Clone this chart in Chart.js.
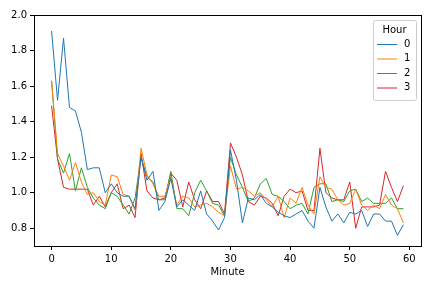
<!DOCTYPE html>
<html>
<head>
<meta charset="utf-8">
<script src="https://cdn.jsdelivr.net/npm/chart.js@4/dist/chart.umd.min.js"></script>
<style>
  html, body { margin: 0; padding: 0; background: #fff; }
  #wrap { width: 432px; height: 288px; }
</style>
</head>
<body>
<div id="wrap"><canvas id="chart" width="432" height="288"></canvas></div>
<script>
const minutes = Array.from({ length: 60 }, (_, i) => i);

const hour0 = [1.91, 1.52, 1.87, 1.48, 1.46, 1.34, 1.13, 1.14, 1.14, 1.00,
  1.05, 1.00, 0.98, 0.98, 0.91, 1.20, 1.07, 1.12, 0.90, 0.95,
  1.08, 0.92, 0.96, 0.93, 0.90, 1.01, 0.88, 0.84, 0.79, 0.86,
  1.24, 1.07, 0.83, 0.97, 0.96, 0.99, 0.94, 0.92, 0.89, 0.87,
  0.86, 0.88, 0.90, 0.84, 0.80, 1.03, 0.92, 0.84, 0.88, 0.83,
  0.89, 0.88, 0.90, 0.81, 0.88, 0.88, 0.84, 0.84, 0.76, 0.82];
const hour1 = [1.63, 1.22, 1.15, 1.07, 1.17, 1.06, 0.99, 1.00, 0.95, 0.93,
  1.10, 1.09, 0.99, 0.98, 0.90, 1.25, 1.10, 1.05, 0.98, 0.98,
  1.09, 0.93, 0.98, 0.97, 0.92, 0.93, 0.94, 0.92, 0.89, 0.87,
  1.15, 1.02, 1.03, 1.01, 0.98, 1.00, 0.96, 0.92, 0.98, 0.86,
  0.97, 0.94, 1.03, 0.93, 0.88, 1.09, 1.03, 1.02, 0.96, 0.93,
  0.94, 1.02, 0.93, 0.90, 0.93, 0.91, 0.99, 0.93, 0.91, 0.83];
const hour2 = [1.63, 1.19, 1.11, 1.22, 1.01, 1.14, 1.03, 0.97, 0.93, 0.91,
  1.00, 0.98, 0.93, 0.88, 0.97, 1.20, 1.09, 1.06, 0.96, 0.96,
  1.12, 0.91, 0.91, 0.87, 1.00, 1.07, 1.01, 0.94, 0.93, 0.87,
  1.20, 1.10, 1.03, 0.95, 0.97, 1.05, 1.08, 0.99, 0.98, 0.95,
  0.91, 0.93, 0.94, 0.88, 1.03, 1.05, 1.05, 0.95, 0.96, 0.95,
  1.01, 1.02, 0.95, 0.97, 0.94, 0.94, 0.94, 0.97, 0.91, 0.91];
const hour3 = [1.49, 1.19, 1.03, 1.02, 1.02, 1.02, 1.02, 0.93, 0.98, 0.92,
  1.00, 1.05, 0.91, 0.93, 0.86, 1.22, 1.01, 0.97, 0.96, 0.97,
  1.11, 1.07, 0.92, 1.06, 0.96, 0.91, 1.01, 0.95, 0.95, 0.88,
  1.28, 1.20, 1.10, 0.95, 0.93, 0.98, 0.97, 0.94, 0.87, 0.98,
  1.02, 1.00, 1.01, 0.90, 0.90, 1.25, 1.00, 0.97, 0.96, 0.96,
  1.06, 0.80, 0.92, 0.92, 0.92, 0.93, 1.12, 1.03, 0.95, 1.04];

const hourLabels = ["0", "1", "2", "3"];
const colors = ["#1f77b4", "#ff7f0e", "#2ca02c", "#d62728"];
const xTicks = [0, 10, 20, 30, 40, 50, 60];
const yTicks = [0.8, 1.0, 1.2, 1.4, 1.6, 1.8, 2.0];

const series = [hour0, hour1, hour2, hour3];
const FONT = "'DejaVu Sans', sans-serif";

// axes frame + legend box in the upper right
const framePlugin = {
  id: "frame",
  afterDraw(chart) {
    const { ctx, chartArea: a } = chart;
    ctx.save();
    ctx.strokeStyle = "#000";
    ctx.lineWidth = 1;
    ctx.strokeRect(Math.round(a.left) + 0.5, Math.round(a.top) + 0.5,
      Math.round(a.right - a.left), Math.round(a.bottom - a.top));

    const bw = 43, bh = 80;
    const bx = a.right - 5 - bw, by = a.top + 5;
    ctx.fillStyle = "rgba(255,255,255,0.8)";
    ctx.strokeStyle = "#cccccc";
    ctx.beginPath();
    ctx.roundRect(bx + 0.5, by + 0.5, bw, bh, 2);
    ctx.fill();
    ctx.stroke();

    ctx.fillStyle = "#000";
    ctx.font = "10px " + FONT;
    ctx.textAlign = "center";
    ctx.textBaseline = "middle";
    ctx.fillText("Hour", bx + bw / 2, by + 10);
    hourLabels.forEach((lab, i) => {
      const yy = by + 24 + i * 14.5;
      ctx.strokeStyle = colors[i];
      ctx.beginPath();
      ctx.moveTo(bx + 4, yy + 0.5);
      ctx.lineTo(bx + 24, yy + 0.5);
      ctx.stroke();
      ctx.fillStyle = "#000";
      ctx.textAlign = "left";
      ctx.fillText(lab, bx + 31, yy);
    });
    ctx.restore();
  }
};

new Chart(document.getElementById("chart"), {
  type: "line",
  data: {
    datasets: series.map((vals, i) => ({
      label: hourLabels[i],
      data: minutes.map((m, j) => ({ x: m, y: vals[j] })),
      borderColor: colors[i],
      backgroundColor: colors[i],
      borderWidth: 1,
      pointRadius: 0,
      tension: 0,
      fill: false
    }))
  },
  options: {
    responsive: false,
    animation: false,
    devicePixelRatio: 1,
    layout: { padding: { top: 15, right: 11, left: 0, bottom: 0 } },
    plugins: { legend: { display: false }, tooltip: { enabled: false } },
    scales: {
      x: {
        type: "linear",
        min: -2.95,
        max: 61.95,
        afterBuildTicks(scale) { scale.ticks = xTicks.map(v => ({ value: v })); },
        afterFit(scale) { scale.height = 42; },
        grid: { display: true, drawOnChartArea: false, tickLength: 4, color: "#000" },
        border: { display: true, color: "#000" },
        ticks: { color: "#000", font: { family: FONT, size: 10 }, padding: 3, maxRotation: 0 },
        title: { display: true, text: "Minute", color: "#000", font: { family: FONT, size: 10 }, padding: { top: 2, bottom: 10 } }
      },
      y: {
        min: 0.7,
        max: 2.0,
        afterBuildTicks(scale) { scale.ticks = yTicks.map(v => ({ value: v })); },
        afterFit(scale) { scale.width = 34; },
        grid: { display: true, drawOnChartArea: false, tickLength: 4, color: "#000" },
        border: { display: true, color: "#000" },
        ticks: { color: "#000", font: { family: FONT, size: 10 }, padding: 3, callback: v => v.toFixed(1) }
      }
    }
  },
  plugins: [framePlugin]
});
</script>
</body>
</html>
